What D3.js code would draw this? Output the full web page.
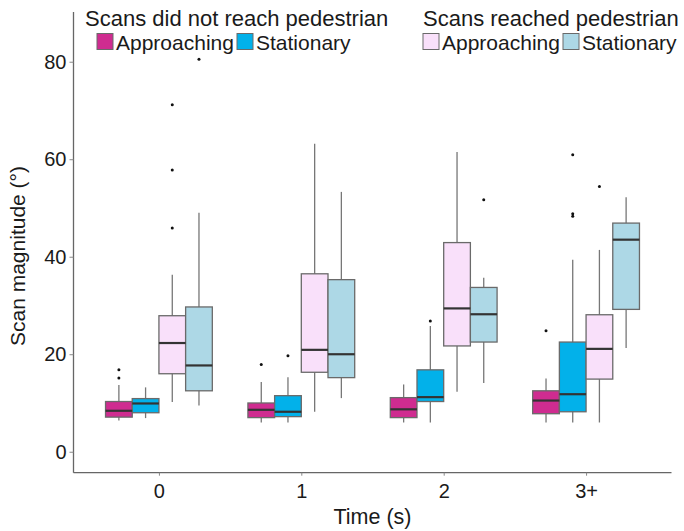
<!DOCTYPE html>
<html>
<head>
<meta charset="utf-8">
<script src="https://cdn.jsdelivr.net/npm/d3@7"></script>
<style>
  body { margin: 0; background: #fff; }
  svg { font-family: "Liberation Sans", Arial, sans-serif; }
</style>
</head>
<body>
<svg width="684" height="531"></svg>
<script>
(function() {

  // x categories (time bins) and series
  const times = ['0', '1', '2', '3+']
  const seriesNames = ['notReachApproaching', 'notReachStationary', 'reachApproaching', 'reachStationary']
  const seriesLabels = ['Approaching', 'Stationary', 'Approaching', 'Stationary']
  const legendTitles = ['Scans did not reach pedestrian', 'Scans reached pedestrian']
  const yTicks = [0, 20, 40, 60, 80]

  // [whisker low, Q1, median, Q3, whisker high] per time bin
  const notReachApproaching = [[6.4, 7.1, 8.4, 10.3, 13.7], [6.0, 7.0, 8.6, 10.0, 14.3], [6.0, 7.0, 8.7, 11.1, 13.8], [6.0, 7.8, 10.5, 12.5, 15.0]]
  const notReachStationary = [[6.9, 8.0, 9.9, 10.9, 13.2], [6.0, 7.2, 8.2, 11.5, 15.3], [6.0, 10.3, 11.2, 16.8, 25.8], [6.0, 8.2, 11.8, 22.5, 39.4]]
  const reachApproaching = [[10.2, 16.0, 22.3, 27.9, 36.3], [8.2, 16.3, 20.9, 36.5, 63.2], [12.3, 21.7, 29.4, 42.9, 61.5], [6.0, 14.9, 21.1, 28.1, 41.4]]
  const reachStationary = [[9.5, 12.5, 17.7, 29.7, 49.0], [11.0, 15.2, 20.0, 35.3, 53.3], [14.1, 22.5, 28.2, 33.7, 35.7], [21.3, 29.2, 43.5, 46.9, 52.2]]

  // outliers per time bin
  const notReachApproachingOut = [[15.1, 16.8], [17.9], [], [24.8]]
  const notReachStationaryOut = [[], [19.7], [26.8], [48.3, 48.8, 60.9]]
  const reachApproachingOut = [[45.9, 57.8, 71.2], [], [], [54.4]]
  const reachStationaryOut = [[80.5], [], [51.7], []]

  const statsBySeries = [notReachApproaching, notReachStationary, reachApproaching, reachStationary]
  const outBySeries = [notReachApproachingOut, notReachStationaryOut, reachApproachingOut, reachStationaryOut]

  const boxes = []
  const outliers = []
  seriesNames.forEach((s, si) => {
    times.forEach((t, ti) => {
      const [lo, q1, med, q3, hi] = statsBySeries[si][ti]
      boxes.push({series: s, time: t, lo, q1, med, q3, hi})
      outBySeries[si][ti].forEach(v => outliers.push({series: s, time: t, value: v}))
    })
  })

  const svg = d3.select('svg')

  const x = d3.scalePoint()
    .domain(times)
    .range([73.5, 671.5])
    .padding(0.6)

  const dodge = d3.scaleBand()
    .domain(seriesNames)
    .range([-0.375 * x.step(), 0.375 * x.step()])

  const y = d3.scaleLinear()
    .domain([-4.3, 90.2])
    .range([472.7, 12])

  const fill = d3.scaleOrdinal()
    .domain(seriesNames)
    .range(['#CF2C90', '#02B1EA', '#F9E0FA', '#ADD8E6'])

  const boxX = d => x(d.time) + dodge(d.series)
  const midX = d => boxX(d) + dodge.bandwidth() / 2

  // axes
  const yAxis = svg.append('g')
    .attr('transform', `translate(${x.range()[0]},0)`)
    .call(d3.axisLeft(y).tickValues(yTicks).tickSize(4).tickPadding(3))
  const xAxis = svg.append('g')
    .attr('transform', `translate(0,${y.range()[0]})`)
    .call(d3.axisBottom(x).tickSize(3).tickPadding(8))

  for (const ax of [yAxis, xAxis]) {
    ax.select('.domain').attr('stroke', '#666').attr('stroke-width', 1.3)
    ax.selectAll('.tick line').attr('stroke', '#888')
    ax.selectAll('.tick text').attr('fill', '#1a1a1a').style('font-size', '20px')
  }
  yAxis.select('.domain').attr('d', `M0,${y.range()[1]}V${y.range()[0]}`)
  xAxis.select('.domain').attr('d', `M${x.range()[0]},0H${x.range()[1]}`)

  // whiskers
  svg.selectAll('.whisker')
    .data(boxes)
    .enter()
    .append('line')
    .attr('x1', midX).attr('x2', midX)
    .attr('y1', d => y(d.lo)).attr('y2', d => y(d.hi))
    .attr('stroke', '#777')
    .attr('stroke-width', 1.3)

  // boxes
  svg.selectAll('.box')
    .data(boxes)
    .enter()
    .append('rect')
    .attr('x', boxX)
    .attr('width', dodge.bandwidth())
    .attr('y', d => y(d.q3))
    .attr('height', d => y(d.q1) - y(d.q3))
    .attr('fill', d => fill(d.series))
    .attr('stroke', '#6a6a6a')
    .attr('stroke-width', 1.3)

  // medians
  svg.selectAll('.median')
    .data(boxes)
    .enter()
    .append('line')
    .attr('x1', boxX)
    .attr('x2', d => boxX(d) + dodge.bandwidth())
    .attr('y1', d => y(d.med)).attr('y2', d => y(d.med))
    .attr('stroke', '#333')
    .attr('stroke-width', 2.2)

  // outliers
  svg.selectAll('.outlier')
    .data(outliers)
    .enter()
    .append('circle')
    .attr('cx', midX)
    .attr('cy', d => y(d.value))
    .attr('r', 1.5)
    .attr('fill', '#111')

  // axis titles
  svg.append('text')
    .attr('x', 372.5).attr('y', 524)
    .attr('text-anchor', 'middle')
    .style('font-size', '21.5px')
    .attr('fill', '#1a1a1a')
    .text('Time (s)')

  svg.append('text')
    .attr('transform', 'translate(25,256) rotate(-90)')
    .attr('text-anchor', 'middle')
    .style('font-size', '21px')
    .attr('fill', '#1a1a1a')
    .text('Scan magnitude (°)')

  // legends
  const legendSpec = [
    {title: legendTitles[0], tx: 85, keys: [{s: 0, kx: 97}, {s: 1, kx: 237}]},
    {title: legendTitles[1], tx: 423, keys: [{s: 2, kx: 423}, {s: 3, kx: 563}]}
  ]
  for (const lg of legendSpec) {
    svg.append('text')
      .attr('x', lg.tx).attr('y', 26)
      .style('font-size', '22px')
      .attr('fill', '#1a1a1a')
      .text(lg.title)
    for (const k of lg.keys) {
      svg.append('rect')
        .attr('x', k.kx).attr('y', 33.5)
        .attr('width', 16).attr('height', 16)
        .attr('fill', fill(seriesNames[k.s]))
        .attr('stroke', '#6a6a6a')
      svg.append('text')
        .attr('x', k.kx + 19).attr('y', 50)
        .style('font-size', '21px')
        .attr('fill', '#1a1a1a')
        .text(seriesLabels[k.s])
    }
  }

})()
</script>
</body>
</html>
